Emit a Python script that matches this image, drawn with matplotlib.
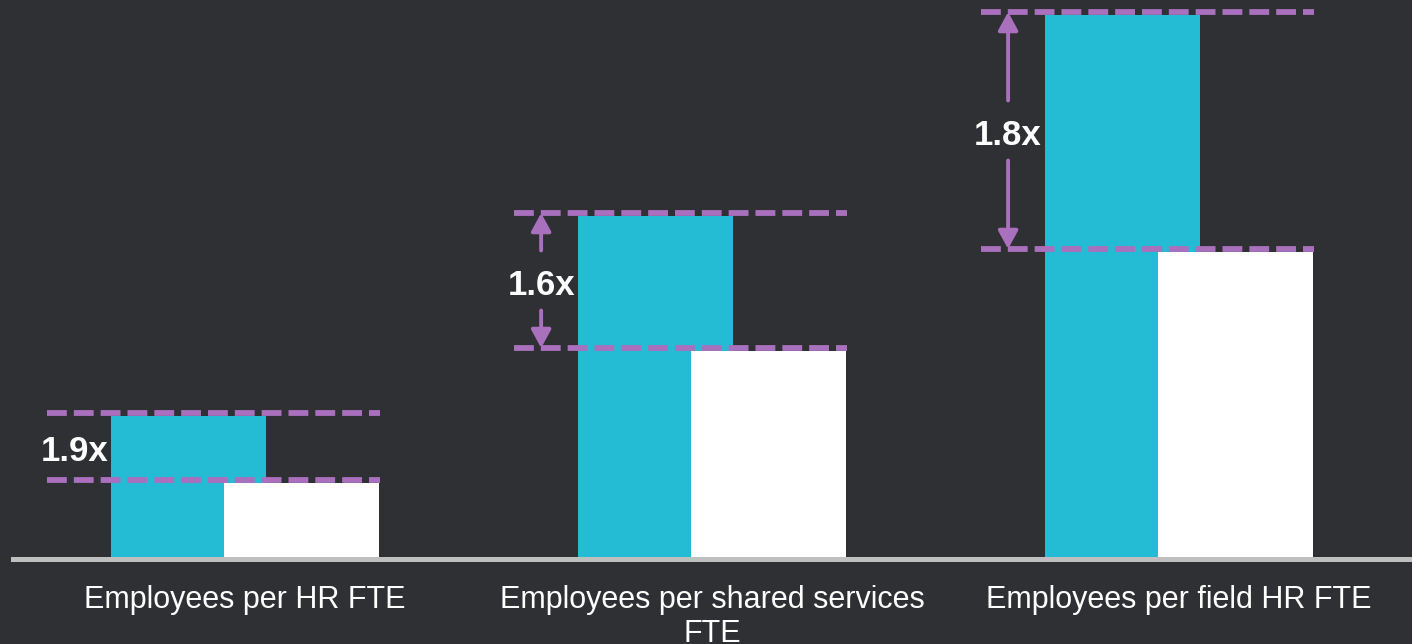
import numpy as np
import matplotlib.pyplot as plt

categories = ['Employees per HR FTE', 'Employees per shared services\nFTE', 'Employees per field HR FTE']
leader = [143, 343, 544]
peer = [76, 208, 307]
ratio_labels = ['1.9x', '1.6x', '1.8x']

bg = '#2f3033'
cyan = '#24bcd5'
purple = '#a970bd'

plt.rcParams['font.family'] = ['Liberation Sans', 'DejaVu Sans']

fig = plt.figure(figsize=(14.12, 6.44), dpi=100, facecolor=bg)
ax = fig.add_axes([13 / 1412, 85 / 644, 1399 / 1412, 559 / 644], facecolor=bg)

x = np.arange(len(categories))
width = 0.332
offset = 0.121

ax.bar(x - offset, leader, width, color=cyan, zorder=2)
ax.bar(x + offset, peer, width, color='white', zorder=3)

# dashed guides at the top of each bar, with a ratio label between them
lift = 3
for xi, hi, lo, lab in zip(x, leader, peer, ratio_labels):
    x0 = xi - offset - width / 2 - 0.137
    x1 = xi + offset + width / 2 + 0.002
    for y in (hi + lift, lo + lift):
        ax.plot([x0, x1], [y, y], color=purple, lw=4.2, dashes=(3.4, 1.2),
                solid_capstyle='butt', zorder=4)
    xa = xi - offset - width / 2 - 0.079
    mid = (hi + lo) / 2 + lift
    ax.text(xa, mid - 5, lab, color='white', fontsize=25, fontweight='bold',
            ha='center', va='center', zorder=5)
    if hi - lo > 100:
        for tail, head in ((mid + 30, hi + lift), (mid - 30, lo + lift)):
            ax.annotate('', xy=(xa, head), xytext=(xa, tail),
                        arrowprops=dict(arrowstyle='-|>,head_length=0.55,head_width=0.3',
                                        mutation_scale=20, lw=2.8, color=purple,
                                        shrinkA=0, shrinkB=0))

ax.set_xlim(-0.497, 2.499)
ax.set_ylim(0, 559)
ax.set_xticks(x)
ax.set_xticklabels(categories, color='white', fontsize=22, linespacing=1.15)
ax.tick_params(axis='x', length=0, pad=19)
ax.set_yticks([])
for side in ('left', 'right', 'top'):
    ax.spines[side].set_visible(False)
ax.spines['bottom'].set_color('#bfbfbf')
ax.spines['bottom'].set_linewidth(3.6)
ax.spines['bottom'].set_zorder(6)

fig.savefig('out.png', dpi=100, facecolor=bg)
